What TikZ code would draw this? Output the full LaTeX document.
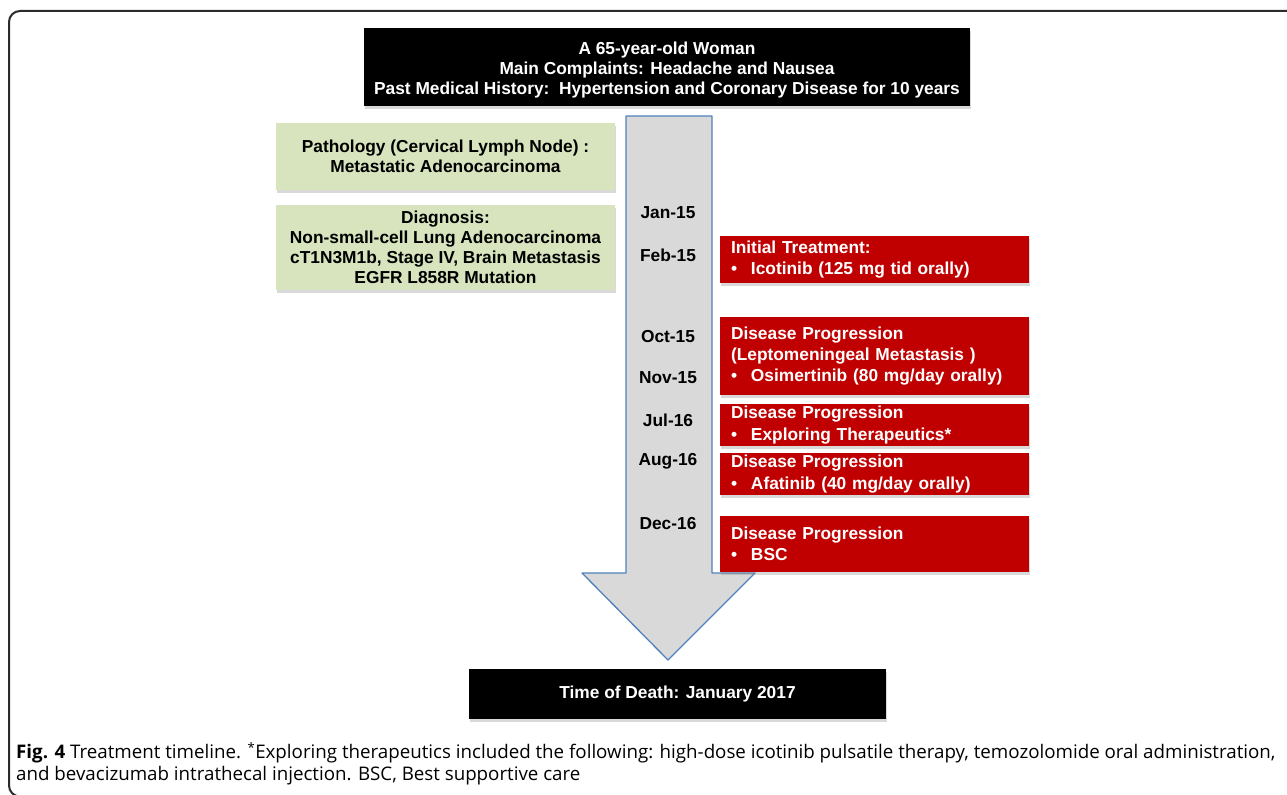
\documentclass[tikz,border=0pt]{standalone}
\usepackage{fontspec}
\setmainfont{Liberation Sans}
\newfontfamily\captionfont{Open Sans}
\usetikzlibrary{shadows}
\definecolor{eventred}{HTML}{C00000}
\definecolor{findgreen}{HTML}{D7E4BD}
\definecolor{shaftgrey}{HTML}{D9D9D9}
\definecolor{shaftblue}{HTML}{4F81BD}
\definecolor{framegrey}{HTML}{2B2B2B}
\newcommand{\evbullet}[1]{\makebox[20bp][l]{\textbullet}#1}

\begin{document}
\begin{tikzpicture}[x=1bp, y=-1bp, line join=round,
  boxshadow/.style={drop shadow={shadow xshift=0.6bp, shadow yshift=-3bp, opacity=0.3}},
  infobox/.style={fill=black, text=white, font=\fontsize{17.4}{20.5}\selectfont\bfseries,
    align=center, inner sep=0pt, boxshadow},
  findbox/.style={fill=findgreen, font=\fontsize{17.4}{20}\selectfont\bfseries,
    align=center, inner sep=0pt, minimum width=339bp, boxshadow},
  eventbox/.style={fill=eventred, text=white, font=\fontsize{17.4}{21.5}\selectfont\bfseries,
    align=left, text width=287bp, inner xsep=11bp, inner ysep=0pt, boxshadow},
  datelabel/.style={font=\fontsize{17.4}{20}\selectfont\bfseries}]

  \useasboundingbox (0,0) rectangle (1287,795);

  % ============ Frame ============
  \draw[framegrey, line width=2bp, rounded corners=11bp]
    (1295,796.5) -- (9,796.5) -- (9,11) -- (1295,11);

  % ============ Patient ============
  % the strut pushes the three lines a little below the box centre
  \node[infobox, minimum width=606bp, minimum height=78bp] (patient) at (667,67)
    {\rule{0pt}{18.5bp}A 65-year-old Woman\\ Main Complaints: Headache and Nausea\\
     Past Medical History:\ \ Hypertension and Coronary Disease for 10 years};

  % ============ Timeline arrow ============
  \draw[shaftblue, fill=shaftgrey, line width=1.3bp]
    (626,116) -- (712,116) -- (712,573) -- (755,573) -- (668,660)
    -- (582,573) -- (626,573) -- cycle;

  % ============ Findings ============
  \node[findbox, minimum height=67bp] (pathology) at (445.5,156.5)
    {Pathology (Cervical Lymph Node) :\\ Metastatic Adenocarcinoma};
  \node[findbox, minimum height=85bp] (diagnosis) at (445.5,247.5)
    {Diagnosis:\\ Non-small-cell Lung Adenocarcinoma\\
     cT1N3M1b, Stage IV, Brain Metastasis\\ EGFR L858R Mutation};

  % ============ Dates ============
  \node[datelabel] (jan15) at (668,213) {Jan-15};
  \node[datelabel] (feb15) at (668,255) {Feb-15};
  \node[datelabel] (oct15) at (668,337) {Oct-15};
  \node[datelabel] (nov15) at (668,378) {Nov-15};
  \node[datelabel] (jul16) at (668,420) {Jul-16};
  \node[datelabel] (aug16) at (668,461) {Aug-16};
  \node[datelabel] (dec16) at (668,524) {Dec-16};

  % ============ Events ============
  \node[eventbox, minimum height=47bp] (initial) at (874.5,259.5)
    {Initial Treatment:\\ \evbullet{Icotinib (125 mg tid orally)}};
  \node[eventbox, minimum height=78bp] (progA) at (874.5,356)
    {Disease Progression\\ (Leptomeningeal Metastasis )\\
     \evbullet{Osimertinib (80 mg/day orally)}};
  \node[eventbox, minimum height=42bp] (progB) at (874.5,425)
    {Disease Progression\\ \evbullet{Exploring Therapeutics*}};
  \node[eventbox, minimum height=42bp] (progC) at (874.5,474)
    {Disease Progression\\ \evbullet{Afatinib (40 mg/day orally)}};
  \node[eventbox, minimum height=56bp] (progD) at (874.5,544)
    {Disease Progression\\ \evbullet{BSC}};

  % ============ Outcome ============
  \node[infobox, minimum width=417bp, minimum height=50bp] (death) at (677.5,694)
    {Time of Death: January 2017};

  % ============ Caption ============
  \node[anchor=north west, align=left, inner sep=0pt,
        font=\captionfont\fontsize{18.8}{22.5}\selectfont] (caption) at (16,742)
    {\textbf{Fig. 4} Treatment timeline. \textsuperscript{*}Exploring therapeutics included the following: high-dose icotinib pulsatile therapy, temozolomide oral administration,\\
     and bevacizumab intrathecal injection. BSC, Best supportive care};

\end{tikzpicture}
\end{document}
